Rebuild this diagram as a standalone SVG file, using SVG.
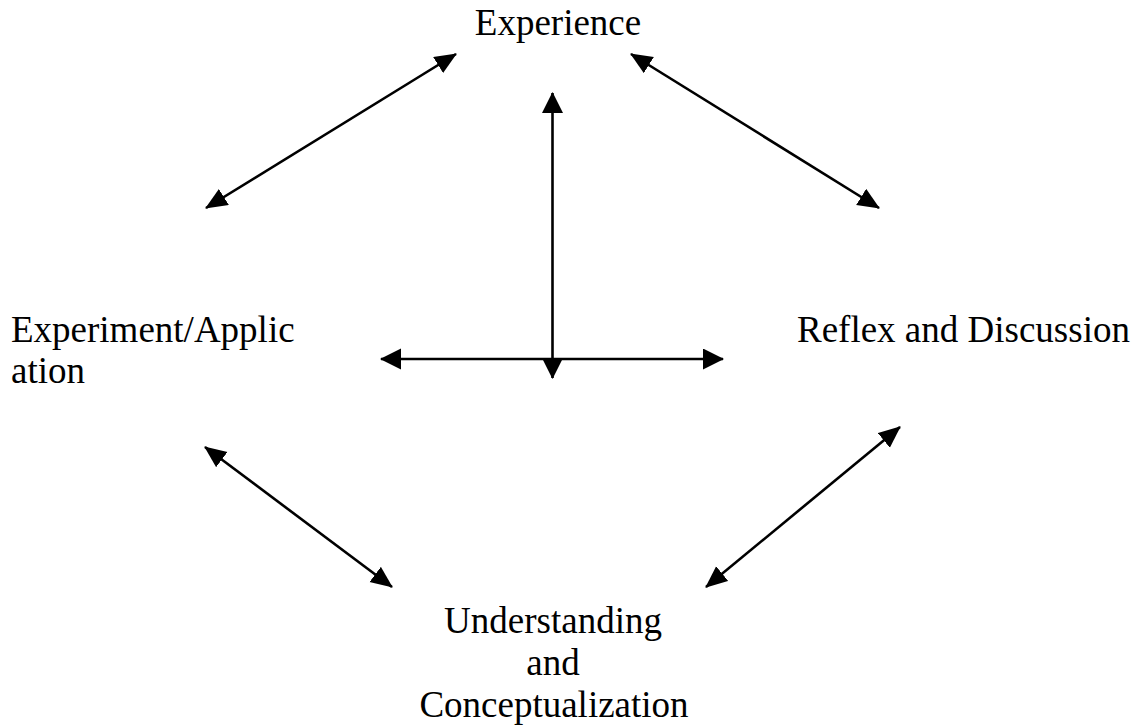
<svg xmlns="http://www.w3.org/2000/svg" width="1148" height="727" viewBox="0 0 1148 727">
<style>
.lbl{font-family:"Liberation Serif","Times New Roman",serif;font-size:37px;fill:#000}
.c{stroke:#000;stroke-width:2.6;fill:none}
</style>
<defs>
<marker id="ah" markerUnits="userSpaceOnUse" markerWidth="24" markerHeight="21" refX="21" refY="9.5" orient="auto-start-reverse">
<path d="M0,0 L22,9.5 L0,19 z" fill="#000"/>
</marker>
<marker id="ah2" markerUnits="userSpaceOnUse" markerWidth="23" markerHeight="23" refX="20" refY="10.5" orient="auto-start-reverse">
<path d="M0,0 L21,10.5 L0,21 z" fill="#000"/>
</marker>
</defs>
<rect width="1148" height="727" fill="#fff"/>
<g id="connectors">
<line class="c" x1="206" y1="208" x2="456" y2="54" marker-start="url(#ah)" marker-end="url(#ah)"/>
<line class="c" x1="631" y1="54" x2="879" y2="208" marker-start="url(#ah)" marker-end="url(#ah)"/>
<line class="c" x1="205" y1="447" x2="392" y2="587" marker-start="url(#ah)" marker-end="url(#ah)"/>
<line class="c" x1="900" y1="427" x2="706" y2="587" marker-start="url(#ah)" marker-end="url(#ah)"/>
<line class="c" x1="552.5" y1="378" x2="552.5" y2="93" marker-start="url(#ah2)" marker-end="url(#ah2)"/>
<line class="c" x1="381" y1="359" x2="723" y2="359" marker-start="url(#ah2)" marker-end="url(#ah2)"/>
</g>
<g id="node-experience"><text class="lbl" x="558" y="35" text-anchor="middle">Experience</text></g>
<g id="node-experiment"><text class="lbl" x="11" y="342">Experiment/Applic</text><text class="lbl" x="11" y="383">ation</text></g>
<g id="node-reflex"><text class="lbl" x="797" y="342">Reflex and Discussion</text></g>
<g id="node-understanding"><text class="lbl" text-anchor="middle"><tspan x="553" y="633">Understanding</tspan><tspan x="553" y="675">and</tspan><tspan x="554" y="717">Conceptualization</tspan></text></g>
</svg>
